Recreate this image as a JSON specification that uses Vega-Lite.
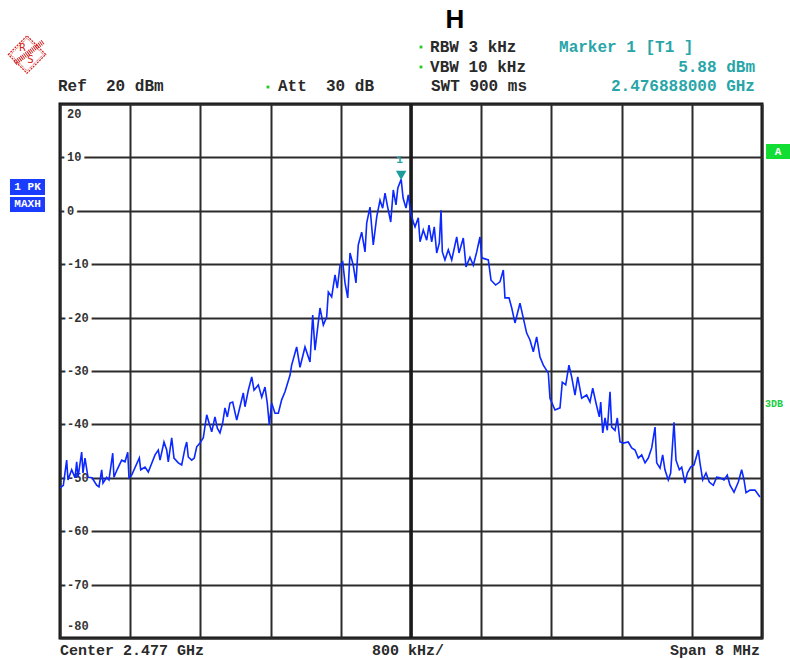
{
"$schema":"https://vega.github.io/schema/vega-lite/v6.json",
"width":702,"height":534,
"autosize":{"type":"none"},
"padding":{"left":60,"top":104,"right":28,"bottom":22},
"background":"white",
"config":{"view":{"stroke":"#111111","strokeWidth":3},"axis":{"grid":true,"gridColor":"#2b2b2b","gridWidth":2,"gridOpacity":1,"labels":false,"ticks":false,"domain":false}},
"datasets":{
"yticks":[{"v":10,"t":"10"},{"v":0,"t":"0"},{"v":-10,"t":"-10"},{"v":-20,"t":"-20"},{"v":-30,"t":"-30"},{"v":-40,"t":"-40"},{"v":-50,"t":"-50"},{"v":-60,"t":"-60"},{"v":-70,"t":"-70"}],
"trace":[
{"f":2473.000,"dbm":-51.9},{"f":2473.038,"dbm":-51.4},{"f":2473.076,"dbm":-46.7},{"f":2473.091,"dbm":-50.4},{"f":2473.133,"dbm":-48.5},{"f":2473.171,"dbm":-50.0},{"f":2473.190,"dbm":-47.0},{"f":2473.205,"dbm":-49.9},{"f":2473.247,"dbm":-45.2},{"f":2473.262,"dbm":-49.1},{"f":2473.285,"dbm":-46.3},{"f":2473.319,"dbm":-49.9},{"f":2473.365,"dbm":-50.0},{"f":2473.418,"dbm":-51.4},{"f":2473.444,"dbm":-51.7},{"f":2473.475,"dbm":-48.5},{"f":2473.490,"dbm":-51.0},{"f":2473.532,"dbm":-49.9},{"f":2473.558,"dbm":-50.4},{"f":2473.601,"dbm":-45.4},{"f":2473.615,"dbm":-49.9},{"f":2473.650,"dbm":-48.5},{"f":2473.703,"dbm":-46.7},{"f":2473.741,"dbm":-47.0},{"f":2473.772,"dbm":-45.2},{"f":2473.786,"dbm":-50.0},{"f":2473.817,"dbm":-49.5},{"f":2473.904,"dbm":-46.3},{"f":2473.920,"dbm":-48.5},{"f":2473.969,"dbm":-48.0},
{"f":2474.006,"dbm":-48.9},{"f":2474.083,"dbm":-45.7},{"f":2474.120,"dbm":-44.8},{"f":2474.140,"dbm":-46.7},{"f":2474.185,"dbm":-43.3},{"f":2474.216,"dbm":-44.8},{"f":2474.234,"dbm":-47.0},{"f":2474.273,"dbm":-42.5},{"f":2474.299,"dbm":-46.3},{"f":2474.348,"dbm":-47.2},{"f":2474.387,"dbm":-47.6},{"f":2474.425,"dbm":-44.4},{"f":2474.444,"dbm":-43.3},{"f":2474.462,"dbm":-46.1},{"f":2474.501,"dbm":-46.7},{"f":2474.530,"dbm":-46.3},{"f":2474.558,"dbm":-44.2},{"f":2474.595,"dbm":-43.5},{"f":2474.633,"dbm":-42.5},{"f":2474.672,"dbm":-38.2},{"f":2474.698,"dbm":-39.7},{"f":2474.729,"dbm":-41.4},{"f":2474.766,"dbm":-38.6},{"f":2474.793,"dbm":-40.7},{"f":2474.823,"dbm":-41.6},{"f":2474.854,"dbm":-39.7},{"f":2474.880,"dbm":-36.9},{"f":2474.907,"dbm":-38.6},{"f":2474.937,"dbm":-36.0},{"f":2474.968,"dbm":-35.8},
{"f":2475.014,"dbm":-39.2},{"f":2475.051,"dbm":-36.7},{"f":2475.089,"dbm":-34.1},{"f":2475.108,"dbm":-36.7},{"f":2475.146,"dbm":-33.6},{"f":2475.185,"dbm":-31.1},{"f":2475.211,"dbm":-33.6},{"f":2475.260,"dbm":-32.6},{"f":2475.299,"dbm":-34.9},{"f":2475.336,"dbm":-33.0},{"f":2475.362,"dbm":-36.0},{"f":2475.385,"dbm":-40.1},{"f":2475.412,"dbm":-36.0},{"f":2475.450,"dbm":-37.9},{"f":2475.488,"dbm":-37.9},{"f":2475.526,"dbm":-35.4},{"f":2475.564,"dbm":-33.9},{"f":2475.621,"dbm":-30.8},{"f":2475.640,"dbm":-28.9},{"f":2475.697,"dbm":-25.5},{"f":2475.735,"dbm":-29.3},{"f":2475.792,"dbm":-25.5},{"f":2475.849,"dbm":-28.3},{"f":2475.880,"dbm":-19.5},{"f":2475.906,"dbm":-26.1},{"f":2475.963,"dbm":-18.2},
{"f":2476.001,"dbm":-21.4},{"f":2476.039,"dbm":-19.9},{"f":2476.058,"dbm":-15.2},{"f":2476.096,"dbm":-16.1},{"f":2476.134,"dbm":-12.0},{"f":2476.160,"dbm":-14.5},{"f":2476.191,"dbm":-10.2},{"f":2476.222,"dbm":-9.6},{"f":2476.248,"dbm":-13.5},{"f":2476.279,"dbm":-16.3},{"f":2476.305,"dbm":-7.9},{"f":2476.342,"dbm":-10.2},{"f":2476.373,"dbm":-13.5},{"f":2476.399,"dbm":-6.4},{"f":2476.438,"dbm":-4.0},{"f":2476.476,"dbm":-7.7},{"f":2476.495,"dbm":-2.3},{"f":2476.533,"dbm":0.7},{"f":2476.570,"dbm":-6.4},{"f":2476.609,"dbm":-1.2},{"f":2476.647,"dbm":2.0},{"f":2476.677,"dbm":0.5},{"f":2476.704,"dbm":3.3},{"f":2476.734,"dbm":0.7},{"f":2476.769,"dbm":-2.1},{"f":2476.798,"dbm":3.9},{"f":2476.829,"dbm":1.1},{"f":2476.850,"dbm":4.3},{"f":2476.888,"dbm":5.88},{"f":2476.910,"dbm":2.4},{"f":2476.943,"dbm":0.5},{"f":2476.969,"dbm":3.0},{"f":2476.997,"dbm":-0.4},
{"f":2477.026,"dbm":-2.1},{"f":2477.046,"dbm":-3.0},{"f":2477.083,"dbm":-1.3},{"f":2477.103,"dbm":-5.8},{"f":2477.140,"dbm":-3.6},{"f":2477.179,"dbm":-5.5},{"f":2477.205,"dbm":-2.7},{"f":2477.236,"dbm":-5.8},{"f":2477.265,"dbm":-3.0},{"f":2477.293,"dbm":-7.9},{"f":2477.323,"dbm":-6.0},{"f":2477.342,"dbm":0.1},{"f":2477.357,"dbm":-7.7},{"f":2477.387,"dbm":-9.2},{"f":2477.425,"dbm":-7.3},{"f":2477.464,"dbm":-9.2},{"f":2477.521,"dbm":-4.9},{"f":2477.547,"dbm":-7.9},{"f":2477.596,"dbm":-5.1},{"f":2477.627,"dbm":-10.5},{"f":2477.672,"dbm":-8.7},{"f":2477.710,"dbm":-10.2},{"f":2477.749,"dbm":-7.7},{"f":2477.786,"dbm":-4.9},{"f":2477.806,"dbm":-8.8},{"f":2477.881,"dbm":-9.2},{"f":2477.912,"dbm":-13.0},{"f":2477.965,"dbm":-13.9},
{"f":2478.014,"dbm":-13.3},{"f":2478.052,"dbm":-11.1},{"f":2478.071,"dbm":-16.3},{"f":2478.117,"dbm":-16.3},{"f":2478.148,"dbm":-18.2},{"f":2478.185,"dbm":-21.0},{"f":2478.242,"dbm":-17.3},{"f":2478.280,"dbm":-20.1},{"f":2478.318,"dbm":-22.9},{"f":2478.356,"dbm":-24.2},{"f":2478.394,"dbm":-26.4},{"f":2478.432,"dbm":-23.6},{"f":2478.470,"dbm":-27.4},{"f":2478.508,"dbm":-28.9},{"f":2478.565,"dbm":-30.4},{"f":2478.584,"dbm":-35.1},{"f":2478.641,"dbm":-37.3},{"f":2478.698,"dbm":-36.9},{"f":2478.724,"dbm":-32.1},{"f":2478.763,"dbm":-32.6},{"f":2478.800,"dbm":-28.9},{"f":2478.831,"dbm":-31.1},{"f":2478.869,"dbm":-34.5},{"f":2478.900,"dbm":-31.1},{"f":2478.945,"dbm":-35.1},
{"f":2479.002,"dbm":-34.5},{"f":2479.040,"dbm":-35.8},{"f":2479.071,"dbm":-33.2},{"f":2479.108,"dbm":-36.0},{"f":2479.146,"dbm":-38.6},{"f":2479.162,"dbm":-35.8},{"f":2479.185,"dbm":-41.6},{"f":2479.211,"dbm":-38.8},{"f":2479.237,"dbm":-41.1},{"f":2479.268,"dbm":-33.9},{"f":2479.287,"dbm":-40.5},{"f":2479.325,"dbm":-41.1},{"f":2479.351,"dbm":-38.8},{"f":2479.382,"dbm":-43.3},{"f":2479.419,"dbm":-43.5},{"f":2479.476,"dbm":-43.3},{"f":2479.515,"dbm":-44.4},{"f":2479.553,"dbm":-44.8},{"f":2479.590,"dbm":-46.3},{"f":2479.629,"dbm":-45.7},{"f":2479.667,"dbm":-47.2},{"f":2479.704,"dbm":-46.3},{"f":2479.743,"dbm":-44.4},{"f":2479.781,"dbm":-40.5},{"f":2479.800,"dbm":-47.2},{"f":2479.838,"dbm":-48.2},{"f":2479.868,"dbm":-45.7},{"f":2479.894,"dbm":-48.5},{"f":2479.932,"dbm":-50.4},{"f":2479.959,"dbm":-49.1},{"f":2479.997,"dbm":-39.6},
{"f":2480.020,"dbm":-46.7},{"f":2480.058,"dbm":-48.5},{"f":2480.085,"dbm":-48.0},{"f":2480.122,"dbm":-51.0},{"f":2480.149,"dbm":-49.1},{"f":2480.187,"dbm":-48.0},{"f":2480.225,"dbm":-47.6},{"f":2480.274,"dbm":-44.8},{"f":2480.293,"dbm":-47.2},{"f":2480.324,"dbm":-50.4},{"f":2480.362,"dbm":-49.1},{"f":2480.399,"dbm":-50.8},{"f":2480.445,"dbm":-51.4},{"f":2480.484,"dbm":-49.9},{"f":2480.521,"dbm":-50.0},{"f":2480.567,"dbm":-50.4},{"f":2480.604,"dbm":-49.5},{"f":2480.635,"dbm":-51.4},{"f":2480.681,"dbm":-52.7},{"f":2480.730,"dbm":-50.8},{"f":2480.768,"dbm":-48.5},{"f":2480.795,"dbm":-50.4},{"f":2480.818,"dbm":-52.8},{"f":2480.863,"dbm":-52.3},{"f":2480.920,"dbm":-52.3},{"f":2480.977,"dbm":-53.6}
]},
"layer":[
{"data":{"values":[{}]},"mark":{"type":"rule","color":"#1a1a1a","strokeWidth":3.5},"encoding":{"x":{"datum":2477}}},
{"data":{"name":"yticks"},"mark":{"type":"text","align":"left","baseline":"middle","dx":7,"font":"Liberation Mono","fontSize":12,"fontWeight":"bold","color":"white","fill":"white","stroke":"white","strokeWidth":7},
 "encoding":{"x":{"datum":2473},"y":{"field":"v","type":"quantitative","scale":{"domain":[-80,20],"nice":false,"zero":false},"axis":{"values":[20,10,0,-10,-20,-30,-40,-50,-60,-70,-80],"title":null}},"text":{"field":"t"}}},
{"data":{"name":"yticks"},"mark":{"type":"text","align":"left","baseline":"middle","dx":7,"font":"Liberation Mono","fontSize":12,"fontWeight":"bold","color":"#333333"},
 "encoding":{"x":{"datum":2473},"y":{"field":"v","type":"quantitative","axis":{"values":[20,10,0,-10,-20,-30,-40,-50,-60,-70,-80],"title":null}},"text":{"field":"t"}}},
{"data":{"values":[{}]},"mark":{"type":"text","align":"left","baseline":"middle","dx":7,"dy":10,"font":"Liberation Mono","fontSize":12,"fontWeight":"bold","color":"#333333"},"encoding":{"x":{"datum":2473},"y":{"datum":20},"text":{"value":"20"}}},
{"data":{"values":[{}]},"mark":{"type":"text","align":"left","baseline":"middle","dx":7,"dy":-12,"font":"Liberation Mono","fontSize":12,"fontWeight":"bold","color":"#333333"},"encoding":{"x":{"datum":2473},"y":{"datum":-80},"text":{"value":"-80"}}},
{"data":{"name":"trace"},"mark":{"type":"line","color":"#0a28ff","strokeWidth":1.6,"strokeJoin":"miter"},
 "encoding":{"x":{"field":"f","type":"quantitative","scale":{"domain":[2473,2481],"nice":false,"zero":false},"axis":{"values":[2473,2473.8,2474.6,2475.4,2476.2,2477,2477.8,2478.6,2479.4,2480.2,2481],"title":null}},
  "y":{"field":"dbm","type":"quantitative","axis":{"values":[20,10,0,-10,-20,-30,-40,-50,-60,-70,-80],"title":null}}}},
{"data":{"values":[{}]},"mark":{"type":"point","shape":"triangle-down","filled":true,"size":110,"color":"#1d9c9c","opacity":1,"yOffset":-4},"encoding":{"x":{"datum":2476.888},"y":{"datum":5.88}}},
{"data":{"values":[{}]},"mark":{"type":"text","align":"center","baseline":"middle","font":"Liberation Mono","fontSize":11,"fontWeight":"bold","color":"#27a5a8"},"encoding":{"x":{"datum":2476.870},"y":{"datum":9.5},"text":{"value":"1"}}},
{"data":{"values":[{}]},"mark":{"type":"text","align":"center","baseline":"middle","font":"Liberation Sans","fontSize":26,"fontWeight":"bold","color":"#000000"},"encoding":{"x":{"datum":2477.501},"y":{"datum":35.64},"text":{"value":"H"}}},
{"data":{"values":[{}]},"mark":{"type":"text","align":"left","baseline":"middle","font":"Liberation Mono","fontSize":16,"fontWeight":"bold","color":"#2a2a2a"},"encoding":{"x":{"datum":2472.977},"y":{"datum":23.37},"text":{"value":"Ref \u00a020 dBm"}}},
{"data":{"values":[{}]},"mark":{"type":"text","align":"left","baseline":"middle","font":"Liberation Mono","fontSize":16,"fontWeight":"bold","color":"#2a2a2a"},"encoding":{"x":{"datum":2475.484},"y":{"datum":23.37},"text":{"value":"Att \u00a030 dB"}}},
{"data":{"values":[{}]},"mark":{"type":"text","align":"left","baseline":"middle","font":"Liberation Mono","fontSize":16,"fontWeight":"bold","color":"#2a2a2a"},"encoding":{"x":{"datum":2477.217},"y":{"datum":30.67},"text":{"value":"RBW 3 kHz"}}},
{"data":{"values":[{}]},"mark":{"type":"text","align":"left","baseline":"middle","font":"Liberation Mono","fontSize":16,"fontWeight":"bold","color":"#2a2a2a"},"encoding":{"x":{"datum":2477.217},"y":{"datum":26.93},"text":{"value":"VBW 10 kHz"}}},
{"data":{"values":[{}]},"mark":{"type":"text","align":"left","baseline":"middle","font":"Liberation Mono","fontSize":16,"fontWeight":"bold","color":"#2a2a2a"},"encoding":{"x":{"datum":2477.228},"y":{"datum":23.37},"text":{"value":"SWT 900 ms"}}},
{"data":{"values":[{}]},"mark":{"type":"text","align":"left","baseline":"middle","font":"Liberation Mono","fontSize":16,"fontWeight":"bold","color":"#27a5a8"},"encoding":{"x":{"datum":2478.687},"y":{"datum":30.67},"text":{"value":"Marker 1 [T1 ]"}}},
{"data":{"values":[{}]},"mark":{"type":"text","align":"right","baseline":"middle","font":"Liberation Mono","fontSize":16,"fontWeight":"bold","color":"#27a5a8"},"encoding":{"x":{"datum":2480.920},"y":{"datum":26.93},"text":{"value":"5.88 dBm"}}},
{"data":{"values":[{}]},"mark":{"type":"text","align":"right","baseline":"middle","font":"Liberation Mono","fontSize":16,"fontWeight":"bold","color":"#27a5a8"},"encoding":{"x":{"datum":2480.920},"y":{"datum":23.37},"text":{"value":"2.476888000 GHz"}}},
{"data":{"values":[{}]},"mark":{"type":"text","align":"left","baseline":"middle","font":"Liberation Mono","fontSize":15,"fontWeight":"bold","color":"#2a2a2a"},"encoding":{"x":{"datum":2473.0},"y":{"datum":-82.2},"text":{"value":"Center 2.477 GHz"}}},
{"data":{"values":[{}]},"mark":{"type":"text","align":"left","baseline":"middle","font":"Liberation Mono","fontSize":15,"fontWeight":"bold","color":"#2a2a2a"},"encoding":{"x":{"datum":2476.555},"y":{"datum":-82.2},"text":{"value":"800 kHz/"}}},
{"data":{"values":[{}]},"mark":{"type":"text","align":"right","baseline":"middle","font":"Liberation Mono","fontSize":15,"fontWeight":"bold","color":"#2a2a2a"},"encoding":{"x":{"datum":2480.977},"y":{"datum":-82.2},"text":{"value":"Span 8 MHz"}}},
{"data":{"values":[{}]},"mark":{"type":"point","shape":"square","filled":true,"size":8,"color":"#22cc22","opacity":1},"encoding":{"x":{"datum":2475.370},"y":{"datum":23.18}}},
{"data":{"values":[{}]},"mark":{"type":"point","shape":"square","filled":true,"size":8,"color":"#22cc22","opacity":1},"encoding":{"x":{"datum":2477.114},"y":{"datum":30.67}}},
{"data":{"values":[{}]},"mark":{"type":"point","shape":"square","filled":true,"size":8,"color":"#22cc22","opacity":1},"encoding":{"x":{"datum":2477.114},"y":{"datum":26.93}}},
{"data":{"values":[{}]},"mark":{"type":"rect","color":"#1a3cff"},"encoding":{"x":{"datum":2472.430},"x2":{"datum":2472.829},"y":{"datum":5.95},"y2":{"datum":2.96}}},
{"data":{"values":[{}]},"mark":{"type":"rect","color":"#1a3cff"},"encoding":{"x":{"datum":2472.430},"x2":{"datum":2472.829},"y":{"datum":2.58},"y2":{"datum":-0.23}}},
{"data":{"values":[{}]},"mark":{"type":"text","align":"center","baseline":"middle","font":"Liberation Mono","fontSize":11,"fontWeight":"bold","color":"white"},"encoding":{"x":{"datum":2472.630},"y":{"datum":4.45},"text":{"value":"1 PK"}}},
{"data":{"values":[{}]},"mark":{"type":"text","align":"center","baseline":"middle","font":"Liberation Mono","fontSize":11,"fontWeight":"bold","color":"white"},"encoding":{"x":{"datum":2472.630},"y":{"datum":1.18},"text":{"value":"MAXH"}}},
{"data":{"values":[{}]},"mark":{"type":"rect","color":"#11dd33"},"encoding":{"x":{"datum":2481.046},"x2":{"datum":2481.319},"y":{"datum":12.51},"y2":{"datum":9.70}}},
{"data":{"values":[{}]},"mark":{"type":"text","align":"center","baseline":"middle","font":"Liberation Mono","fontSize":11,"fontWeight":"bold","color":"white"},"encoding":{"x":{"datum":2481.182},"y":{"datum":11.10},"text":{"value":"A"}}},
{"data":{"values":[{}]},"mark":{"type":"text","align":"left","baseline":"middle","font":"Liberation Mono","fontSize":10,"fontWeight":"bold","color":"#22cc44"},"encoding":{"x":{"datum":2481.034},"y":{"datum":-36.18},"text":{"value":"3DB"}}},
{"data":{"values":[{}]},"mark":{"type":"point","shape":"diamond","filled":false,"size":1400,"color":"#d42020","strokeWidth":1.2,"strokeDash":[2,1],"opacity":1},"encoding":{"x":{"datum":2472.624},"y":{"datum":29.27}}},
{"data":{"values":[{}]},"mark":{"type":"point","shape":"diamond","filled":false,"size":1050,"color":"#d42020","strokeWidth":1,"strokeDash":[1,1],"opacity":1},"encoding":{"x":{"datum":2472.624},"y":{"datum":29.27}}},
{"data":{"values":[{}]},"mark":{"type":"rule","color":"#d42020","strokeWidth":5,"strokeDash":[1,1]},"encoding":{"x":{"datum":2472.487},"y":{"datum":27.68},"x2":{"datum":2472.806},"y2":{"datum":31.61}}},
{"data":{"values":[{}]},"mark":{"type":"text","align":"center","baseline":"middle","font":"DejaVu Sans","fontSize":10,"color":"#d42020"},"encoding":{"x":{"datum":2472.573},"y":{"datum":30.58},"text":{"value":"R"}}},
{"data":{"values":[{}]},"mark":{"type":"text","align":"center","baseline":"middle","font":"DejaVu Sans","fontSize":10,"color":"#d42020"},"encoding":{"x":{"datum":2472.664},"y":{"datum":28.24},"text":{"value":"S"}}}
]
}
